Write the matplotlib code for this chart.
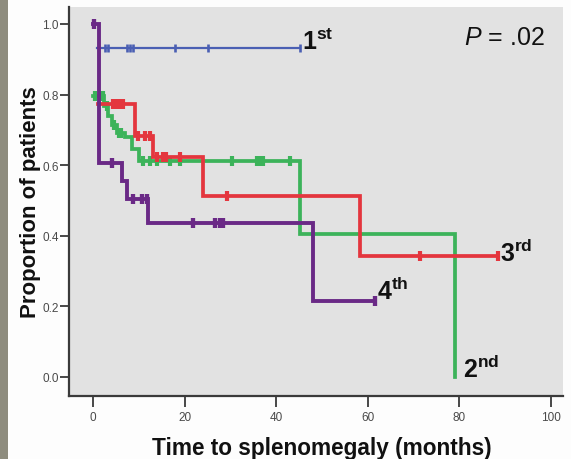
import matplotlib
matplotlib.use("Agg")
import matplotlib.pyplot as plt
from matplotlib.patches import Rectangle

plt.rcParams['mathtext.fontset'] = 'custom'
plt.rcParams['mathtext.rm'] = 'Liberation Sans'
plt.rcParams['mathtext.it'] = 'Liberation Sans:italic'
plt.rcParams['mathtext.bf'] = 'Liberation Sans:bold'
plt.rcParams['font.family'] = ['Liberation Sans', 'DejaVu Sans']

# ---- data (Kaplan-Meier steps) ----
# 1st
t1 = [0.9, 45.2]
s1 = [0.932, 0.932]
c1_t = [2.6, 3.3, 7.4, 8.1, 8.7, 17.9, 25.1, 45.2]

# 2nd
t2 = [0.0, 2.5, 3.3, 4.2, 5.2, 7.0, 8.6, 10.0, 45.2, 79.0]
s2 = [0.796, 0.768, 0.740, 0.713, 0.690, 0.680, 0.646, 0.612, 0.405, 0.0]
c2_t = [0.5, 1.5, 2.1, 3.0, 4.6, 5.6, 6.2, 11.0, 12.4, 14.0, 16.8, 19.0,
        30.3, 35.8, 36.5, 37.1, 43.0]

# 3rd
t3 = [1.0, 9.2, 13.1, 24.0, 58.3, 88.4]
s3 = [0.773, 0.683, 0.623, 0.513, 0.343, 0.343]
c3_t = [4.4, 5.0, 5.7, 6.5, 9.8, 11.4, 12.5, 14.0, 15.3, 16.0, 19.0, 29.3,
        71.4, 88.4]

# 4th
t4 = [0.0, 1.2, 6.3, 7.4, 12.0, 48.0, 61.6]
s4 = [1.0, 0.607, 0.555, 0.504, 0.436, 0.216, 0.216]
c4_t = [0.2, 4.1, 8.7, 10.7, 11.8, 21.8, 26.6, 27.7, 28.4, 61.6]

labels = ['1', '2', '3', '4']
suffix = ['st', 'nd', 'rd', 'th']
colors = ['#4a5fb3', '#3cb35a', '#e4363e', '#6a2986']

xticks = [0, 20, 40, 60, 80, 100]
yticks = [0.0, 0.2, 0.4, 0.6, 0.8, 1.0]


def step_value(t, s, x):
    v = s[0]
    for ti, si in zip(t, s):
        if x >= ti:
            v = si
    return v


fig = plt.figure(figsize=(5.71, 4.60), dpi=100)
fig.patch.set_facecolor('#fdfdfd')
fig.patches.append(Rectangle((0, 0), 8 / 571, 1, transform=fig.transFigure,
                             facecolor='#8e8c7e', edgecolor='none', zorder=0))

ax = fig.add_axes([69 / 571, 1 - 397 / 460, (563 - 69) / 571, (397 - 8) / 460])
ax.set_facecolor('#e2e2e2')

series = [(t1, s1, c1_t, 1.6), (t2, s2, c2_t, 2.7), (t3, s3, c3_t, 2.7), (t4, s4, c4_t, 2.8)]
order = [1, 2, 3, 0]
for i in order:
    t, s, ct, lw = series[i]
    ax.plot(t, s, drawstyle='steps-post', color=colors[i], lw=lw, zorder=3 + i,
            solid_joinstyle='miter')
    cy = [step_value(t, s, x) for x in ct]
    ax.plot(ct, cy, ls='none', marker='|', ms=7 if i else 6, mew=lw + 0.3,
            color=colors[i], zorder=3 + i)

# end labels
offsets = [(1.5, -0.5), (6, 0), (1.5, -3.5), (1.5, 1.5)]
for i, (t, s, ct, lw) in enumerate(series):
    ax.annotate(r'$\mathbf{%s^{%s}}$' % (labels[i], suffix[i]),
                xy=(t[-1], s[-1]), xytext=offsets[i], textcoords='offset points',
                ha='left', va='baseline', fontsize=18, color='#111111', zorder=10)

ax.text(0.800, 0.906, r'$P$ = .02', transform=ax.transAxes, fontsize=18,
        color='#111111', ha='left', va='baseline')

ax.set_xlim(-5.24, 102.6)
ax.set_ylim(-0.054, 1.048)
ax.set_xticks(xticks)
ax.set_xticklabels([str(v) for v in xticks])
ax.set_yticks(yticks)
ax.set_yticklabels(['%.1f' % v for v in yticks])

for side in ['top', 'right']:
    ax.spines[side].set_visible(False)
for side in ['left', 'bottom']:
    ax.spines[side].set_color('#3a3a3a')
    ax.spines[side].set_linewidth(1.6)

ax.tick_params(axis='x', length=8, width=1.3, color='#3a3a3a', labelsize=8.5,
               labelcolor='#4a4a4a', pad=3)
ax.tick_params(axis='y', length=6.5, width=1.3, color='#3a3a3a', labelsize=8.5,
               labelcolor='#4a4a4a', pad=1)

ax.set_xlabel('Time to splenomegaly (months)', fontsize=16.3, fontweight='bold',
              color='#111111', labelpad=8)
ax.xaxis.set_label_coords(0.512, -0.102)
ax.xaxis.label.set_va('top')
ax.set_ylabel('Proportion of patients', fontsize=16, fontweight='bold',
              color='#111111', labelpad=1)

fig.savefig('out.png', dpi=100, facecolor=fig.get_facecolor())
